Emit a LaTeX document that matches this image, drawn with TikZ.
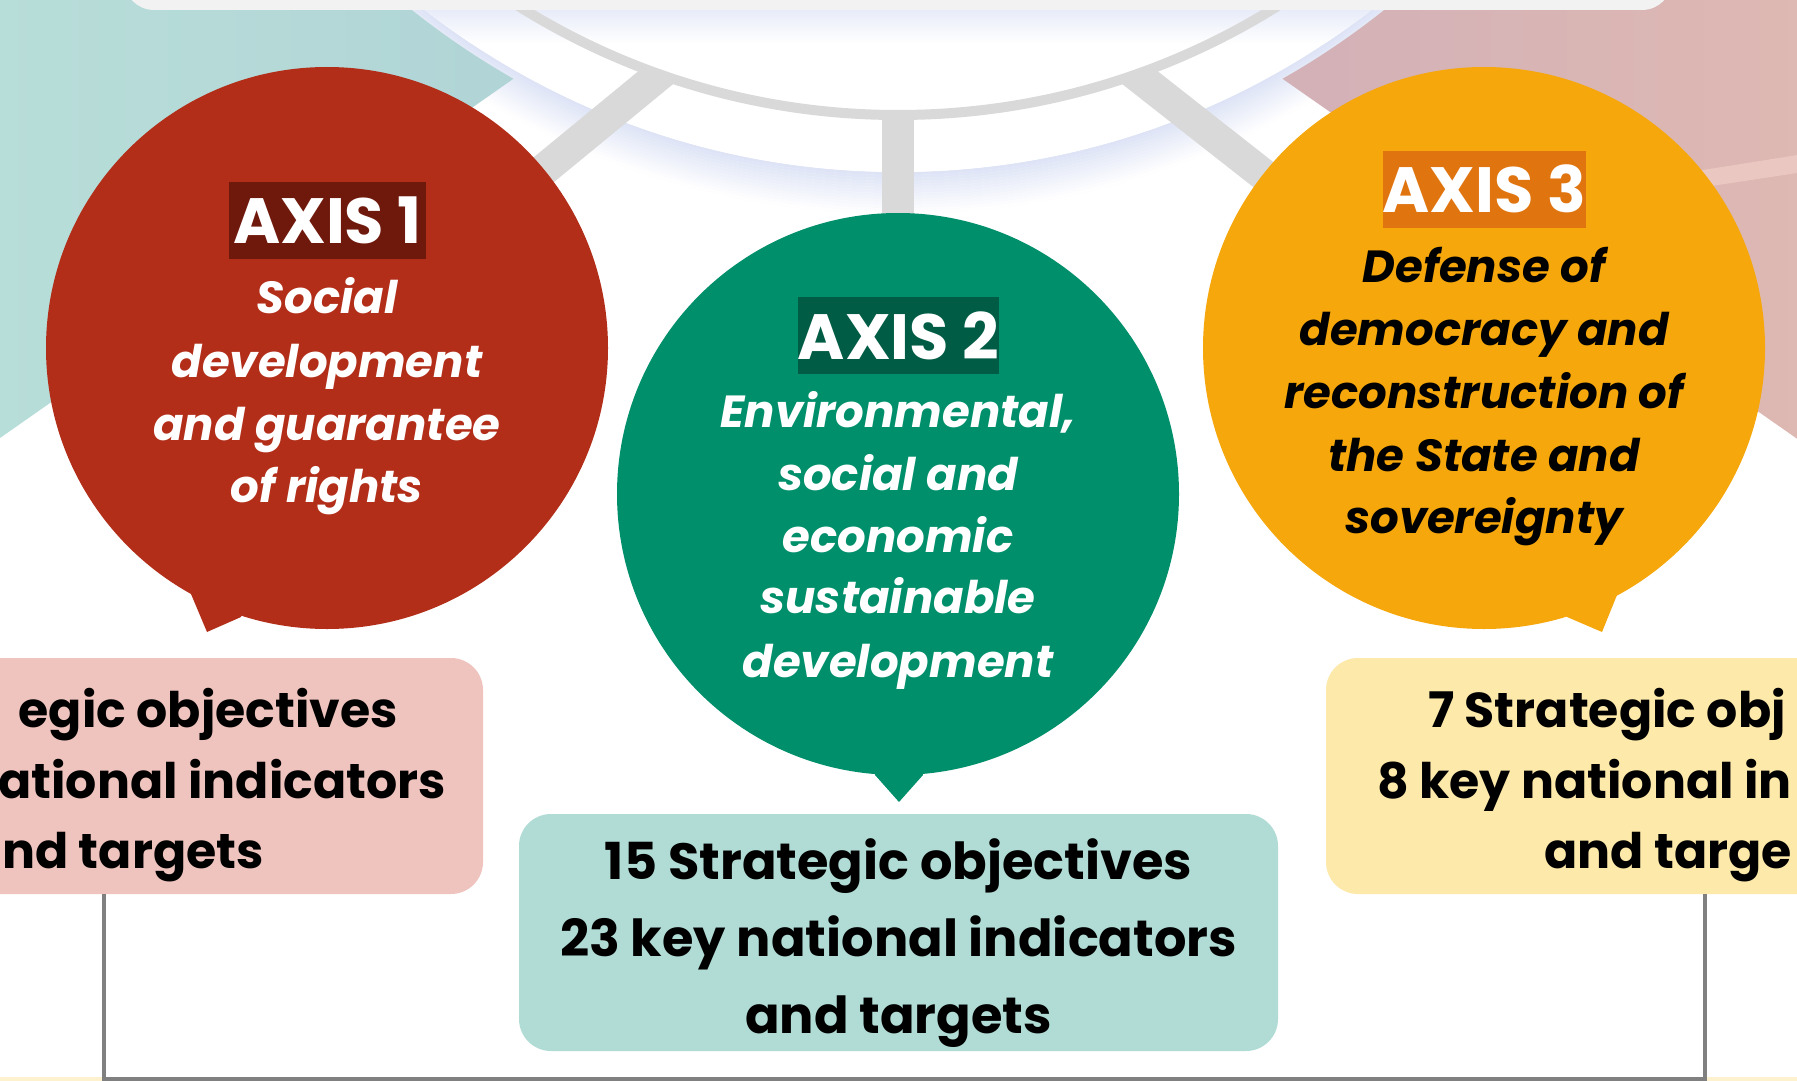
\documentclass[tikz,border=0pt]{standalone}
\usepackage{fontspec}
\setmainfont{Poppins}
\usetikzlibrary{calc}
\definecolor{axisred}{RGB}{178,46,25}
\definecolor{axisreddark}{RGB}{111,25,12}
\definecolor{axisgreen}{RGB}{0,143,107}
\definecolor{axisgreendark}{RGB}{0,92,68}
\definecolor{axisyellow}{RGB}{245,167,12}
\definecolor{axisyellowdark}{RGB}{224,117,16}
\definecolor{boxpink}{RGB}{240,196,190}
\definecolor{boxteal}{RGB}{176,220,213}
\definecolor{boxyellow}{RGB}{253,233,169}
\definecolor{bgteal}{RGB}{184,222,217}
\definecolor{bgtealb}{RGB}{174,209,213}
\definecolor{bgpink}{RGB}{222,184,178}
\definecolor{bgpinkb}{RGB}{206,174,185}
\definecolor{glowblue}{RGB}{222,228,246}
\definecolor{ringgray}{RGB}{217,217,217}
\definecolor{bargray}{RGB}{242,242,242}
\definecolor{bracketgray}{RGB}{128,128,128}
\definecolor{paleyellow}{RGB}{254,242,206}
\definecolor{stripepink}{RGB}{235,199,193}
\begin{document}
\begin{tikzpicture}[x=1pt,y=-1pt,
  axistitle/.style={font=\fontsize{64}{64}\selectfont\bfseries, text=white, minimum width=197pt, minimum height=77pt, inner sep=0pt},
  axisline/.style={font=\fontsize{45}{45}\selectfont\bfseries\itshape, inner sep=0pt, anchor=base},
  figline/.style={font=\fontsize{51}{51}\selectfont\bfseries, inner sep=0pt, text=black},
  sideline/.style={font=\fontsize{49}{49}\selectfont\bfseries, inner sep=0pt, text=black},
  infobox/.style={rectangle, rounded corners=32pt, inner sep=0pt},
  axisdisk/.style={circle, minimum size=562pt, inner sep=0pt},
  spoke/.style={ringgray, line width=32pt},
  bracket/.style={bracketgray, line width=4pt}
]
\useasboundingbox (0,0) rectangle (1797,1081);
\clip (0,0) rectangle (1797,1081);
\fill[white] (0,0) rectangle (1797,1081);

% outer glow of the central disk
\foreach \i in {0,...,13} {
  \pgfmathsetmacro\pct{100-\i*7.5}
  \pgfmathsetmacro\rr{772+\i*3+1.5}
  \draw[line width=3.2pt, draw=glowblue!\pct!white] (898,-600) circle (\rr pt);
}

% teal background sector (left)
\begin{scope}[even odd rule]
  \clip (-10,-10) -- (640.3,-10) -- (-10,445) -- cycle;
  \clip (-20,-20) rectangle (1820,1100) (898,-600) circle (780pt);
  \shade[left color=bgteal, right color=bgtealb] (-10,-10) rectangle (700,460);
\end{scope}
% pink background sector (right)
\begin{scope}[even odd rule]
  \clip (1155.7,-10) -- (1810,-10) -- (1810,447.8) -- cycle;
  \clip (-20,-20) rectangle (1820,1100) (898,-600) circle (780pt);
  \shade[left color=bgpinkb, right color=bgpink] (1100,-10) rectangle (1810,460);
  \fill[stripepink] (1640,180) -- (1810,153) -- (1810,171) -- (1640,197) -- cycle;
\end{scope}

% central white disk
\fill[white] (898,-600) circle (772pt);
\begin{scope}
  \clip (898,-600) circle (772pt);
  \shade[top color=glowblue!70!white, bottom color=white] (100,10) rectangle (1700,44);
\end{scope}

% gray ring and spokes
\draw[ringgray, line width=10pt] (898,-600) circle (715pt);
\coordinate (c1c) at (327,348);
\coordinate (c2c) at (898,494);
\coordinate (c3c) at (1484,348);
\begin{scope}[even odd rule]
  \clip (-20,-20) rectangle (1820,1100) (898,-600) circle (715pt);
  \draw[spoke] (c1c) -- ($(c1c)!1.35!(648,84)$);
  \draw[spoke] (c2c) -- (898,60);
  \draw[spoke] (c3c) -- ($(c3c)!1.35!(1148,84)$);
\end{scope}

% top bar
\fill[bargray, rounded corners=30pt] (124,-60) rectangle (1672,10);

% axis disks with speech tails
\node[axisdisk, fill=axisred] (axis1) at (c1c) {};
\fill[axisred] (c1c) -- (191,594) -- (207,632) -- (241,617) -- cycle;
\node[axisdisk, fill=axisgreen] (axis2) at (c2c) {};
\fill[axisgreen] (c2c) -- (875,775) -- (899,802) -- (923,775) -- cycle;
\node[axisdisk, fill=axisyellow] (axis3) at (c3c) {};
\fill[axisyellow] (c3c) -- (1567,617) -- (1602,632) -- (1617,595) -- cycle;

% axis titles
\node[axistitle, fill=axisreddark] (t1) at (327.5,220.5) {AXIS 1};
\node[axistitle, fill=axisgreendark] (t2) at (898.5,335.5) {AXIS 2};
\node[axistitle, fill=axisyellowdark] (t3) at (1484.5,189) {AXIS 3};

% axis descriptions
\node[axisline, text=white] (d1a) at (327,313) {Social};
\node[axisline, text=white] (d1b) at (327,377) {development};
\node[axisline, text=white] (d1c) at (327,440) {and guarantee};
\node[axisline, text=white] (d1d) at (327,502) {of rights};

\node[axisline, text=white] (d2a) at (898,427) {Environmental,};
\node[axisline, text=white] (d2b) at (898,490) {social and};
\node[axisline, text=white] (d2c) at (898,552) {economic};
\node[axisline, text=white] (d2d) at (898,613) {sustainable};
\node[axisline, text=white] (d2e) at (898,677) {development};

\node[axisline, text=black] (d3a) at (1484,282) {Defense of};
\node[axisline, text=black] (d3b) at (1484,345) {democracy and};
\node[axisline, text=black] (d3c) at (1484,408) {reconstruction of};
\node[axisline, text=black] (d3d) at (1484,471) {the State and};
\node[axisline, text=black] (d3e) at (1484,533) {sovereignty};

% figure boxes
\node[infobox, fill=boxpink, minimum width=560pt, minimum height=236pt] (b1) at (203,776) {};
\node[infobox, fill=boxyellow, minimum width=560pt, minimum height=236pt] (b3) at (1606,776) {};
\node[infobox, fill=boxteal, minimum width=759pt, minimum height=237pt] (b2) at (898.5,932.5) {};

\node[sideline, anchor=base east] (b1l1) at (398,727) {egic objectives};
\node[sideline, anchor=base east] (b1l2) at (446,798) {ational indicators};
\node[sideline, anchor=base east] (b1l3) at (264,868) {nd targets};

\node[figline, anchor=base] (b2l1) at (898.5,879) {15 Strategic objectives};
\node[figline, anchor=base] (b2l2) at (898.5,956) {23 key national indicators};
\node[figline, anchor=base] (b2l3) at (898.5,1033) {and targets};

\node[sideline, anchor=base west] (b3l1) at (1428,727) {7 Strategic obj};
\node[sideline, anchor=base east] (b3l2) at (1792,798) {8 key national in};
\node[sideline, anchor=base east] (b3l3) at (1792,868) {and targe};

% bottom strip and bracket
\fill[paleyellow] (0,1077) rectangle (1797,1081);
\coordinate (bl) at (104,1079);
\coordinate (br) at (1705,1079);
\draw[bracket] (b1.south -| bl) -- (bl) -- (br) -- (b3.south -| br);
\end{tikzpicture}
\end{document}
